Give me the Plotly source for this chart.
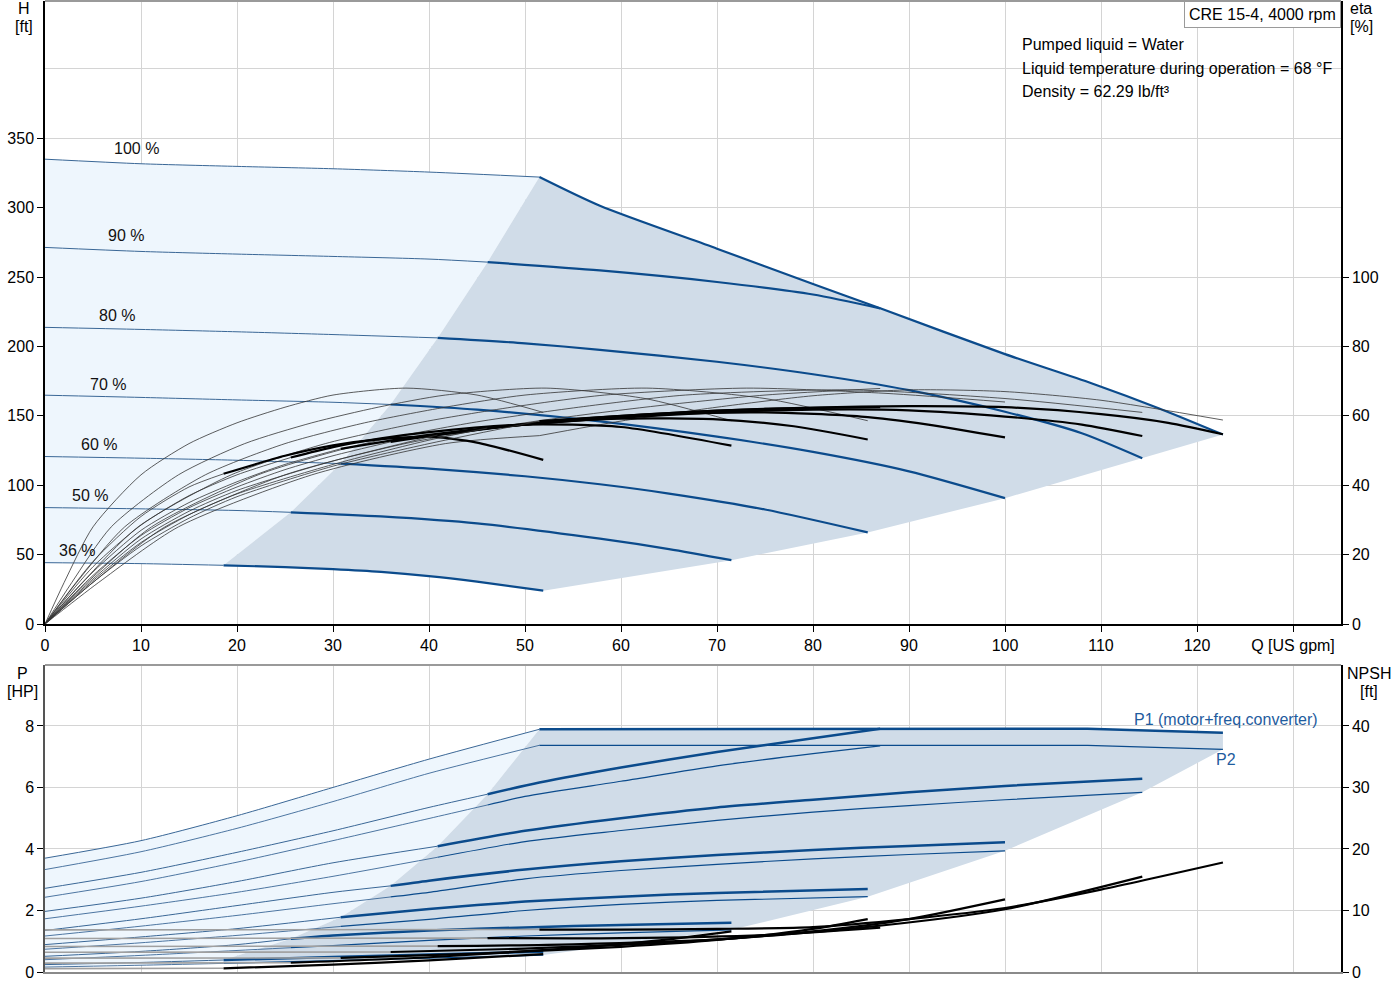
import plotly.graph_objects as go

# ---------------- QH curves: flow [US gpm], head [ft] ----------------
q_h36 = [0, 10, 18.6, 25, 30, 35, 40, 45, 51.9]
h_36 = [44.2, 43.5, 42.3, 41, 39.5, 37.5, 34.5, 30.5, 24]
q_h50 = [0, 10, 20, 25.6, 35, 45, 57.8, 65, 71.5]
h_50 = [83.9, 83, 81.8, 80.5, 77.5, 72.5, 61.5, 54, 46]
q_h60 = [0, 10, 20, 30.8, 40, 50, 57.8, 65, 75, 85.7]
h_60 = [120.7, 119.5, 118, 115.6, 112, 106.5, 100.7, 94, 82.5, 66]
q_h70 = [0, 10, 20, 30, 36, 45, 57.8, 70, 80, 90, 100]
h_70 = [164.9, 163.3, 161.5, 159.8, 158.2, 154.5, 146, 135, 124, 110, 90.7]
q_h80 = [0, 10, 20, 30, 40.9, 50, 57.8, 70, 80, 90, 100, 108, 114.3]
h_80 = [213.8, 212.3, 210.6, 208.6, 206.2, 202.3, 197.6, 189, 180, 168.5, 153, 137.5, 119.5]
q_h90 = [0, 10, 20, 30, 40, 46.1, 57.8, 70, 80, 87]
h_90 = [271.4, 268.5, 266.6, 264.9, 263, 260.8, 254.8, 246.5, 237.5, 227.5]
q_h100 = [0, 10, 20, 30, 40, 51.5]
h_100 = [335, 331.7, 329.8, 328.1, 325.7, 322.1]
q_hmax = [51.5, 57.8, 70, 80, 87, 100, 109, 116, 122.7]
h_max = [322.1, 301.4, 270.5, 245, 227.5, 194.5, 173.5, 155.5, 136.5]

speed_names = ["36 %", "50 %", "60 %", "70 %", "80 %", "90 %", "100 %"]
q_start = [18.6, 25.6, 30.8, 36, 40.9, 46.1, 51.5]   # left edge of operating range

# ---------------- efficiency [%] ----------------
# pump efficiency (thin)
q_ep36 = [0, 2, 5, 10, 15, 20, 25, 30, 37.6, 45, 51.9]
e_p36 = [0, 12, 28, 43, 52, 58, 62.5, 66, 68, 66, 61]
q_ep50 = [0, 2.8, 6.9, 13.9, 20.8, 27.8, 34.7, 41.7, 52.2, 62.5, 71.5]
e_p50 = [0, 12, 28, 43, 52, 58, 62.5, 66, 68, 65, 58.6]
q_ep60 = [0, 3.3, 8.3, 16.7, 25, 33.3, 41.7, 50, 62.7, 75, 85.7]
e_p60 = [0, 12, 28, 43, 52, 58, 62.5, 66, 68, 65, 58.6]
q_ep70 = [0, 3.9, 9.7, 19.4, 29.2, 38.9, 48.6, 58.3, 73.1, 87.5, 100]
e_p70 = [0, 12, 28, 43, 52, 58, 62.5, 66, 68, 66.5, 64]
q_ep80 = [0, 4.4, 11.1, 22.2, 33.3, 44.4, 55.6, 66.7, 83.6, 100, 114.3]
e_p80 = [0, 12, 28, 43, 52, 58, 62.5, 66, 67.5, 65, 61]
q_ep90 = [0, 5, 12.5, 25, 37.5, 50, 62.5, 75, 87]
e_p90 = [0, 12, 28, 43, 52, 58, 62.5, 66, 67.9]
q_ep100 = [0, 5.6, 13.9, 27.8, 41.7, 51.5]
e_p100 = [0, 12, 28, 43, 52, 54.3]
q_epmax = [51.5, 60, 70, 80, 90, 100, 110, 122.7]
e_pmax = [54.3, 58.5, 62.5, 65.8, 67.5, 67, 64.5, 58.8]

# total efficiency (thin left of range, thick inside)
q_et36 = [0, 5, 10, 15, 18.6, 25, 30, 35, 40, 45, 51.9]
e_t36 = [0, 18, 31, 39.5, 43.3, 48.5, 51.5, 53.3, 54, 52.3, 47.3]
q_et50 = [0, 5, 10, 15, 20, 25.6, 30, 35, 40, 50, 60, 71.5]
e_t50 = [0, 16.5, 28.5, 37, 43, 48, 51, 53.5, 55.3, 57.5, 56.8, 51.4]
q_et60 = [0, 5, 10, 15, 20, 25, 30.8, 40, 50, 60, 70, 78, 85.7]
e_t60 = [0, 15, 27, 35, 41, 46, 50.5, 54.5, 57.5, 59.2, 59, 57, 53.2]
q_et70 = [0, 5, 10, 15, 20, 25, 30, 36, 45, 55, 65, 75, 85, 92, 100]
e_t70 = [0, 14, 25.5, 33.5, 39.5, 44.5, 48.5, 52.5, 56, 58.8, 60.5, 61, 59.8, 57.5, 53.8]
q_et80 = [0, 5, 10, 15, 20, 30, 40.9, 50, 60, 70, 80, 90, 100, 108, 114.3]
e_t80 = [0, 13, 24.5, 32.5, 38.5, 47, 54.5, 57.5, 59.5, 61, 61.8, 61.6, 59.8, 57.5, 54.2]
q_et90 = [0, 5, 10, 15, 20, 30, 40, 46.1, 55, 65, 75, 87]
e_t90 = [0, 12.5, 23.5, 31.5, 37.5, 46, 53, 56.5, 59, 60.8, 62, 62.5]
q_et100 = [0, 5, 10, 15, 20, 30, 40, 51.5]
e_t100 = [0, 12, 22.5, 30.5, 36.7, 45.5, 52, 58.5]
q_etmax = [51.5, 60, 70, 80, 90, 100, 110, 117, 122.7]
e_tmax = [58.5, 60, 61.5, 62.4, 62.8, 62.5, 60.5, 58, 54.7]

# ---------------- power [HP] ----------------
q_p1_36 = [0, 10, 18.6, 30, 40, 51.9]
p1_36 = [0.24, 0.31, 0.39, 0.49, 0.57, 0.66]
q_p1_50 = [0, 10, 20, 25.6, 30, 40, 50, 60, 71.5]
p1_50 = [0.51, 0.67, 0.89, 1.08, 1.19, 1.35, 1.45, 1.53, 1.6]
q_p1_60 = [0, 10, 20, 30.8, 40, 50, 60, 70, 85.7]
p1_60 = [0.89, 1.14, 1.41, 1.78, 2.05, 2.29, 2.45, 2.57, 2.7]
q_p1_70 = [0, 10, 20, 30, 36, 40, 50, 60, 70, 80, 90, 100]
p1_70 = [1.35, 1.73, 2.16, 2.59, 2.8, 2.97, 3.33, 3.6, 3.8, 3.97, 4.1, 4.22]
q_p1_80 = [0, 10, 20, 30, 40.9, 50, 60, 70, 80, 90, 100, 114.3]
p1_80 = [1.97, 2.4, 2.94, 3.55, 4.09, 4.59, 5.0, 5.35, 5.6, 5.84, 6.05, 6.28]
q_p1_90 = [0, 10, 20, 30, 40, 46.1, 51.5, 60, 70, 80, 87]
p1_90 = [2.72, 3.24, 3.89, 4.59, 5.35, 5.78, 6.16, 6.65, 7.15, 7.6, 7.91]
q_p1_100 = [0, 10, 20, 30, 40, 51.5]
p1_100 = [3.7, 4.27, 5.08, 6.0, 6.92, 7.89]
q_p1_max = [51.5, 70, 87, 100, 108.6, 122.7]
p1_max = [7.89, 7.9, 7.91, 7.91, 7.91, 7.78]

q_p2_36 = [0, 10, 18.6, 30, 40, 51.9]
p2_36 = [0.16, 0.22, 0.28, 0.37, 0.45, 0.55]
q_p2_50 = [0, 10, 20, 25.6, 30, 40, 50, 60, 71.5]
p2_50 = [0.4, 0.54, 0.7, 0.79, 0.86, 1.03, 1.17, 1.27, 1.37]
q_p2_60 = [0, 10, 20, 30.8, 40, 50, 60, 70, 85.7]
p2_60 = [0.74, 0.95, 1.19, 1.48, 1.71, 2.0, 2.2, 2.33, 2.45]
q_p2_70 = [0, 10, 20, 30, 36, 40, 50, 60, 70, 80, 90, 100]
p2_70 = [1.17, 1.49, 1.84, 2.22, 2.44, 2.59, 3.03, 3.3, 3.5, 3.68, 3.82, 3.94]
q_p2_80 = [0, 10, 20, 30, 40.9, 50, 60, 70, 80, 90, 100, 114.3]
p2_80 = [1.73, 2.14, 2.59, 3.11, 3.73, 4.24, 4.6, 4.93, 5.2, 5.41, 5.6, 5.84]
q_p2_90 = [0, 10, 20, 30, 40, 46.1, 50, 60, 70, 80, 87]
p2_90 = [2.43, 2.94, 3.57, 4.27, 4.99, 5.43, 5.71, 6.2, 6.7, 7.1, 7.35]
q_p2_100 = [0, 10, 20, 30, 40, 51.5]
p2_100 = [3.33, 3.91, 4.67, 5.54, 6.46, 7.37]
q_p2_max = [51.5, 70, 87, 100, 108.6, 122.7]
p2_max = [7.37, 7.37, 7.37, 7.37, 7.37, 7.24]

# ---------------- NPSH [ft] ----------------
q_n36 = [0, 18.6, 30, 40, 51.9]
n_36 = [0.55, 0.6, 1.2, 1.9, 2.9]
q_n50 = [0, 25.6, 40, 55, 65, 71.5]
n_50 = [1.45, 1.5, 2.4, 3.9, 5.3, 6.6]
q_n60 = [0, 30.8, 45, 60, 70, 80, 85.7]
n_60 = [2.25, 2.3, 3.0, 4.1, 5.2, 7.0, 8.6]
q_n70 = [0, 36, 50, 65, 80, 90, 100]
n_70 = [3.2, 3.25, 3.8, 4.8, 6.6, 8.6, 11.8]
q_n80 = [0, 40.9, 55, 70, 85, 100, 114.3]
n_80 = [4.15, 4.2, 4.5, 5.3, 7.2, 10.2, 15.5]
q_n90 = [0, 46.1, 60, 75, 87]
n_90 = [5.45, 5.5, 5.5, 6.0, 7.2]
q_n100 = [0, 51.5]
n_100 = [6.85, 6.9]
q_nmax = [51.5, 60, 70, 80, 90, 100, 110, 122.7]
n_max = [6.9, 6.9, 7.0, 7.3, 8.6, 10.4, 13.4, 17.8]

BLUE = "#0b4b8c"
BLUE_THIN = "#3a6796"
LIGHT = "#eef6fd"
DARK = "#d0dce8"
GRID = "#d4d4d4"

fig = go.Figure()


def line(q, v, xa, ya, color, width, shape="spline"):
    if len(q) < 2:
        return
    fig.add_trace(go.Scatter(x=list(q), y=list(v), xaxis=xa, yaxis=ya, mode="lines",
                             line=dict(color=color, width=width, shape=shape, smoothing=0.7),
                             hoverinfo="skip", showlegend=False))


def split(q, v, q0):
    thin = [(a, b) for a, b in zip(q, v) if a <= q0]
    thick = [(a, b) for a, b in zip(q, v) if a >= q0]
    return (list(zip(*thin)) or [[], []]), (list(zip(*thick)) or [[], []])


def at(q, v, q0):
    return v[q.index(q0)]


def area(xs, ys, xa, ya, color):
    fig.add_trace(go.Scatter(x=xs, y=ys, xaxis=xa, yaxis=ya, mode="lines", fill="toself",
                             fillcolor=color, line=dict(width=0), hoverinfo="skip", showlegend=False))


qh = [(q_h36, h_36), (q_h50, h_50), (q_h60, h_60), (q_h70, h_70),
      (q_h80, h_80), (q_h90, h_90), (q_h100, h_100)]
p1 = [(q_p1_36, p1_36), (q_p1_50, p1_50), (q_p1_60, p1_60), (q_p1_70, p1_70),
      (q_p1_80, p1_80), (q_p1_90, p1_90), (q_p1_100, p1_100)]
p2 = [(q_p2_36, p2_36), (q_p2_50, p2_50), (q_p2_60, p2_60), (q_p2_70, p2_70),
      (q_p2_80, p2_80), (q_p2_90, p2_90), (q_p2_100, p2_100)]
eta_tot = [(q_et36, e_t36), (q_et50, e_t50), (q_et60, e_t60), (q_et70, e_t70),
           (q_et80, e_t80), (q_et90, e_t90), (q_et100, e_t100)]
eta_pump = [(q_ep36, e_p36), (q_ep50, e_p50), (q_ep60, e_p60), (q_ep70, e_p70),
            (q_ep80, e_p80), (q_ep90, e_p90), (q_ep100, e_p100), (q_epmax, e_pmax)]
npsh = [(q_n36, n_36), (q_n50, n_50), (q_n60, n_60), (q_n70, n_70),
        (q_n80, n_80), (q_n90, n_90), (q_n100, n_100)]

# ---------- shaded ranges, top ----------
edge_q = list(q_start)
edge_h = [at(q, v, s) for (q, v), s in zip(qh, q_start)]
lo_thin = [(a, b) for a, b in zip(q_h36, h_36) if a <= q_start[0]]
area([a for a, b in lo_thin] + edge_q + q_h100[::-1],
     [b for a, b in lo_thin] + edge_h + h_100[::-1], "x", "y", LIGHT)
lo_thick = [(a, b) for a, b in zip(q_h36, h_36) if a >= q_start[0]]
ends = [(q[-1], v[-1]) for q, v in qh[:5]]
area(edge_q + q_hmax + [a for a, b in ends[::-1]] + [a for a, b in lo_thick[::-1]],
     edge_h + h_max + [b for a, b in ends[::-1]] + [b for a, b in lo_thick[::-1]],
     "x", "y", DARK)

# ---------- shaded ranges, bottom ----------
pedge = [at(q, v, s) for (q, v), s in zip(p1, q_start)]
b_thin = [(a, b) for a, b in zip(q_p2_36, p2_36) if a <= q_start[0]]
area([a for a, b in b_thin] + edge_q + q_p1_100[::-1],
     [b for a, b in b_thin] + pedge + p1_100[::-1], "x2", "y3", LIGHT)
b_thick = [(a, b) for a, b in zip(q_p2_36, p2_36) if a >= q_start[0]]
pends = [(q_p2_max[-1], p2_max[-1])] + [(q[-1], v[-1]) for q, v in p2[:5]][::-1]
area(edge_q + q_p1_max + [a for a, b in pends] + [a for a, b in b_thick[::-1]],
     pedge + p1_max + [b for a, b in pends] + [b for a, b in b_thick[::-1]],
     "x2", "y3", DARK)

# ---------- QH lines ----------
for (q, v), s in zip(qh, q_start):
    thin, thick = split(q, v, s)
    line(thin[0], thin[1], "x", "y", BLUE_THIN, 1)
    line(thick[0], thick[1], "x", "y", BLUE, 2.2)
line(q_hmax, h_max, "x", "y", BLUE, 2.2)

# ---------- efficiency lines ----------
for q, v in eta_pump:
    line(q, v, "x", "y2", "#333333", 0.8)
for (q, v), s in zip(eta_tot, q_start):
    thin, thick = split(q, v, s)
    line(thin[0], thin[1], "x", "y2", "#333333", 0.8)
    line(thick[0], thick[1], "x", "y2", "#000000", 2.2)
line(q_etmax, e_tmax, "x", "y2", "#000000", 2.2)

# ---------- power lines ----------
for (q, v), s in zip(p2, q_start):
    thin, thick = split(q, v, s)
    line(thin[0], thin[1], "x2", "y3", BLUE_THIN, 0.9)
    line(thick[0], thick[1], "x2", "y3", BLUE, 1.2)
line(q_p2_max, p2_max, "x2", "y3", BLUE, 1.2, shape="linear")
for (q, v), s in zip(p1, q_start):
    thin, thick = split(q, v, s)
    line(thin[0], thin[1], "x2", "y3", BLUE_THIN, 1)
    line(thick[0], thick[1], "x2", "y3", BLUE, 2.5)
line(q_p1_max, p1_max, "x2", "y3", BLUE, 2.5, shape="linear")

# ---------- NPSH lines ----------
for (q, v), s in zip(npsh, q_start):
    thin, thick = split(q, v, s)
    line(thin[0], thin[1], "x2", "y4", "#a0a0a0", 1.6)
    line(thick[0], thick[1], "x2", "y4", "#000000", 2.2)
line(q_nmax, n_max, "x2", "y4", "#000000", 2.2)

# ---------- axes ----------
ticks_q = list(range(0, 140, 10))
tick_font = dict(family="Liberation Sans, Arial, sans-serif", size=16, color="#000")
top_dom = [(972 - 624) / 971, 1]
bot_dom = [0, (972 - 665) / 971]

fig.update_layout(
    width=1400, height=1000,
    margin=dict(l=45, r=59, t=1, b=28),
    plot_bgcolor="white", paper_bgcolor="white",
    font=tick_font, showlegend=False,
    xaxis=dict(domain=[0, 1], anchor="y", range=[0, 135], tickmode="array",
               tickvals=ticks_q, ticktext=[str(t) for t in ticks_q[:-1]] + ["Q [US gpm]"],
               ticks="outside", ticklen=6, tickcolor="#000", showline=True,
               linecolor="#000", linewidth=2, showgrid=True, gridcolor=GRID, zeroline=False,
               tickfont=tick_font),
    yaxis=dict(domain=top_dom, anchor="x", range=[0, 449], tickmode="array",
               tickvals=list(range(0, 400, 50)), ticks="outside", ticklen=6, tickcolor="#000",
               showline=True, linecolor="#000", linewidth=1.5, showgrid=True, gridcolor=GRID,
               zeroline=False, tickfont=tick_font,
               minor=dict(tickmode="array", tickvals=[400], showgrid=True, gridcolor=GRID, ticks="")),
    yaxis2=dict(overlaying="y", side="right", anchor="x", range=[0, 179.6], tickmode="array",
                tickvals=list(range(0, 120, 20)), ticks="outside", ticklen=6, tickcolor="#000",
                showline=True, linecolor="#000", linewidth=1.5, showgrid=False, zeroline=False,
                tickfont=tick_font),
    xaxis2=dict(domain=[0, 1], anchor="y3", range=[0, 135], tickmode="array", tickvals=ticks_q,
                showticklabels=False, ticks="", showline=True, linecolor="#8a8a8a", linewidth=2,
                showgrid=True, gridcolor=GRID, zeroline=False),
    yaxis3=dict(domain=bot_dom, anchor="x2", range=[0, 9.98], tickmode="array",
                tickvals=[0, 2, 4, 6, 8], ticks="outside", ticklen=6, tickcolor="#000",
                showline=True, linecolor="#555", linewidth=1.5, showgrid=True, gridcolor=GRID,
                zeroline=False, tickfont=tick_font),
    yaxis4=dict(overlaying="y3", side="right", anchor="x2", range=[0, 49.9], tickmode="array",
                tickvals=[0, 10, 20, 30, 40], ticks="outside", ticklen=6, tickcolor="#000",
                showline=True, linecolor="#000", linewidth=1.5, showgrid=False, zeroline=False,
                tickfont=tick_font),
)

# gray frame on top of each plot
fig.add_shape(type="line", xref="x domain", yref="y domain", x0=0, x1=1, y0=1, y1=1,
              line=dict(color="#9a9a9a", width=2))
fig.add_shape(type="line", xref="x2 domain", yref="y3 domain", x0=0, x1=1, y0=1, y1=1,
              line=dict(color="#9a9a9a", width=2))


def px(x):
    return (x - 45) / 1296


def py(y):
    return (972 - y) / 971


def note(text, x, y, xanchor="center", yanchor="middle", color="#000", size=16, **kw):
    fig.add_annotation(text=text, x=px(x), y=py(y), xref="paper", yref="paper",
                       xanchor=xanchor, yanchor=yanchor, showarrow=False,
                       font=dict(family="Liberation Sans, Arial, sans-serif", size=size, color=color),
                       **kw)


note("H", 24, 8)
note("[ft]", 24, 26)
note("eta", 1361, 8)
note("[%]", 1361, 26)
note("P", 22, 673)
note("[HP]", 22, 691)
note("NPSH", 1369, 673)
note("[ft]", 1369, 691)

note("Pumped liquid = Water", 1020, 44, xanchor="left")
note("Liquid temperature during operation = 68 °F", 1020, 68, xanchor="left")
note("Density = 62.29 lb/ft³", 1020, 92, xanchor="left")

note("CRE 15-4, 4000 rpm", 1341, 1, xanchor="right", yanchor="top",
     bordercolor="#9a9a9a", borderwidth=1, borderpad=4, bgcolor="white")

note("P1 (motor+freq.converter)", 1132, 719, xanchor="left", color="#1f5c9e")
note("P2", 1214, 759, xanchor="left", color="#1f5c9e")

# speed labels above the QH curves
label_pos = [(77, 550), (90, 495), (99, 444), (108, 384), (117, 315), (126, 236), (136, 148)]
for name, (lx, ly) in zip(speed_names, label_pos):
    note(name, lx, ly, color="#111")

fig.write_html("out.html", config={"displayModeBar": False},
               post_script="document.body.style.margin='0';")
